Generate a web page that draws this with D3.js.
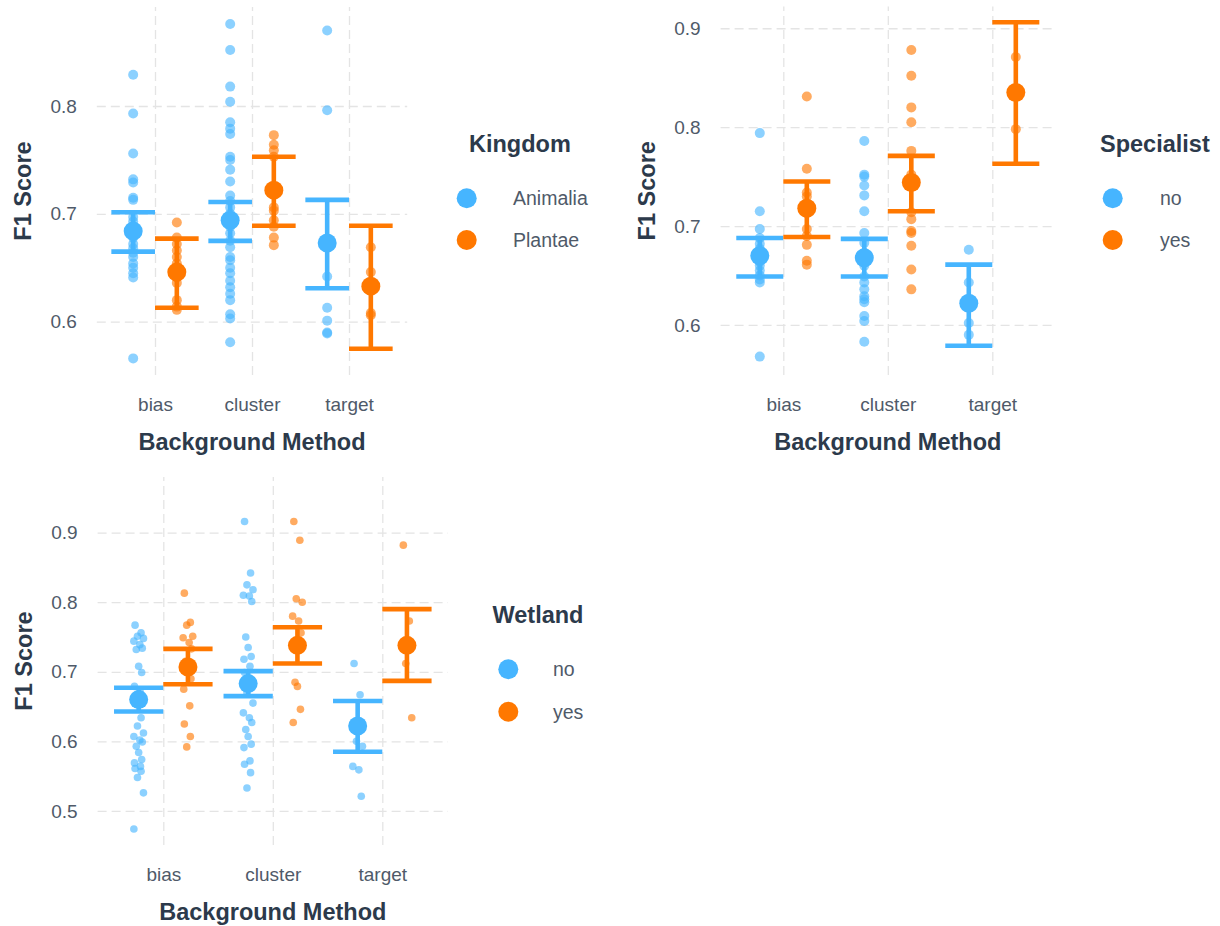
<!DOCTYPE html>
<html>
<head>
<title>F1 Score by Background Method</title>
<script src="https://d3js.org/d3.v7.min.js"></script>
<style>
    body { margin: 0; background: #fff; }
    svg text { font-family: "Liberation Sans", Arial, sans-serif; }
    .grid line { stroke: #e4e4e4; stroke-width: 1.3px; stroke-dasharray: 9,5; }
    .grid path { display: none; }
    .ticks path { display: none; }
    .ticks text { fill: #4f5a69; font-size: 19px; }
    .title { fill: #2c3a4b; font-size: 23.5px; font-weight: bold; }
    .lbl { fill: #4f5a69; font-size: 19.5px; }
</style>
</head>
<body>
<div id="chart"></div>
<script>
// categories
const methods = ["bias", "cluster", "target"];
const colors = ["#46b5ff", "#ff7800"];

// ---- Kingdom panel (per group: bias, cluster, target) ----
const kingdomGroups = ["Animalia", "Plantae"];
const kingdomAnimalia = [
    [0.829, 0.793, 0.756, 0.732, 0.729, 0.715, 0.713, 0.697, 0.693, 0.688, 0.685, 0.682, 0.678, 0.672, 0.668, 0.664, 0.660, 0.654, 0.650, 0.645, 0.641, 0.566],
    [0.876, 0.852, 0.818, 0.804, 0.785, 0.779, 0.774, 0.753, 0.750, 0.741, 0.730, 0.717, 0.712, 0.706, 0.700, 0.694, 0.688, 0.682, 0.675, 0.669, 0.660, 0.657, 0.650, 0.645, 0.638, 0.632, 0.626, 0.620, 0.607, 0.603, 0.581],
    [0.870, 0.796, 0.642, 0.613, 0.601, 0.590, 0.589]
];
const kingdomPlantae = [
    [0.692, 0.678, 0.672, 0.666, 0.660, 0.654, 0.646, 0.641, 0.636, 0.620, 0.614, 0.611],
    [0.773, 0.764, 0.759, 0.753, 0.725, 0.720, 0.706, 0.703, 0.694, 0.688, 0.678, 0.671],
    [0.669, 0.646, 0.633, 0.608, 0.606]
];
const kingdomMean = [[0.684, 0.646], [0.694, 0.722], [0.673, 0.633]];
const kingdomLow  = [[0.665, 0.613], [0.675, 0.689], [0.631, 0.575]];
const kingdomHigh = [[0.7015, 0.677], [0.711, 0.753], [0.713, 0.689]];
const kingdomTicks = [0.6, 0.7, 0.8];

// ---- Specialist panel ----
const specialistGroups = ["no", "yes"];
const specialistNo = [
    [0.794, 0.715, 0.697, 0.688, 0.682, 0.677, 0.673, 0.670, 0.667, 0.664, 0.660, 0.655, 0.650, 0.646, 0.643, 0.568],
    [0.786, 0.752, 0.750, 0.741, 0.731, 0.715, 0.693, 0.683, 0.673, 0.666, 0.660, 0.649, 0.643, 0.636, 0.629, 0.626, 0.623, 0.609, 0.604, 0.583],
    [0.676, 0.643, 0.626, 0.619, 0.602, 0.590]
];
const specialistYes = [
    [0.831, 0.758, 0.734, 0.730, 0.720, 0.713, 0.697, 0.690, 0.681, 0.665, 0.661],
    [0.878, 0.852, 0.820, 0.805, 0.776, 0.752, 0.745, 0.714, 0.707, 0.695, 0.693, 0.680, 0.656, 0.636],
    [0.871, 0.798]
];
const specialistMean = [[0.670, 0.718], [0.668, 0.744], [0.622, 0.835]];
const specialistLow  = [[0.649, 0.689], [0.649, 0.715], [0.579, 0.763]];
const specialistHigh = [[0.688, 0.745], [0.687, 0.771], [0.661, 0.906]];
const specialistTicks = [0.6, 0.7, 0.8, 0.9];

// ---- Wetland panel ----
const wetlandGroups = ["no", "yes"];
const wetlandNo = [
    [0.767, 0.756, 0.751, 0.748, 0.744, 0.739, 0.734, 0.732, 0.708, 0.699, 0.679, 0.670, 0.660, 0.634, 0.622, 0.612, 0.607, 0.602, 0.599, 0.593, 0.584, 0.574, 0.569, 0.564, 0.561, 0.557, 0.548, 0.526, 0.474],
    [0.916, 0.842, 0.825, 0.818, 0.810, 0.809, 0.801, 0.750, 0.735, 0.722, 0.718, 0.708, 0.699, 0.679, 0.670, 0.655, 0.641, 0.634, 0.627, 0.617, 0.607, 0.596, 0.591, 0.572, 0.567, 0.555, 0.533],
    [0.712, 0.667, 0.600, 0.593, 0.564, 0.559, 0.521]
];
const wetlandYes = [
    [0.813, 0.771, 0.767, 0.751, 0.749, 0.742, 0.733, 0.715, 0.706, 0.690, 0.675, 0.651, 0.625, 0.607, 0.592],
    [0.916, 0.889, 0.805, 0.800, 0.780, 0.773, 0.756, 0.685, 0.679, 0.646, 0.627],
    [0.882, 0.773, 0.712, 0.634]
];
const wetlandMean = [[0.660, 0.707], [0.683, 0.738], [0.622, 0.738]];
const wetlandLow  = [[0.643, 0.682], [0.665, 0.712], [0.585, 0.687]];
const wetlandHigh = [[0.677, 0.733], [0.701, 0.764], [0.658, 0.790]];
const wetlandTicks = [0.5, 0.6, 0.7, 0.8, 0.9];

// small fixed horizontal spread used in the bottom panel
const jitterPattern = [-3, 2, -1, 4, -4, 1, 3, -2, 0, 2.5, -3.5, 1.5];

let panels = [
    { title: "Kingdom", groups: kingdomGroups, pts: [kingdomAnimalia, kingdomPlantae],
      mean: kingdomMean, low: kingdomLow, high: kingdomHigh, ticks: kingdomTicks,
      ydom: [0.5506, 0.8918], box: { left: 96.8, right: 407.2, top: 7, bottom: 375 },
      r: 5, jitter: 0,
      legend: { titleX: 469, titleY: 151.7, keyX: 466.7, keyY: [198.3, 240], labelX: 513 } },
    { title: "Specialist", groups: specialistGroups, pts: [specialistNo, specialistYes],
      mean: specialistMean, low: specialistLow, high: specialistHigh, ticks: specialistTicks,
      ydom: [0.5494, 0.922], box: { left: 720.6, right: 1055, top: 6.5, bottom: 375 },
      r: 5, jitter: 0,
      legend: { titleX: 1100, titleY: 151.7, keyX: 1112.7, keyY: [198.3, 240], labelX: 1160 } },
    { title: "Wetland", groups: wetlandGroups, pts: [wetlandNo, wetlandYes],
      mean: wetlandMean, low: wetlandLow, high: wetlandHigh, ticks: wetlandTicks,
      ydom: [0.451, 0.980], box: { left: 97.6, right: 448, top: 477, bottom: 845 },
      r: 3.8, jitter: 1.2,
      legend: { titleX: 492.5, titleY: 623.3, keyX: 508.3, keyY: [669.3, 711.7], labelX: 553 } }
];

let svg = d3.select("#chart").append("svg")
    .attr("width", 1220).attr("height", 926);

panels.forEach(function(p) {
    let b = p.box;
    let x = d3.scalePoint().domain(methods).range([b.left, b.right]).padding(0.6);
    let y = d3.scaleLinear().domain(p.ydom).range([b.bottom, b.top]);
    let dodge = x.step() * 0.225;
    let g = svg.append("g");

    // dashed grid
    g.append("g").attr("class", "grid")
        .attr("transform", "translate(" + b.left + ",0)")
        .call(d3.axisLeft(y).tickValues(p.ticks).tickSize(-(b.right - b.left)).tickFormat(""));
    g.append("g").attr("class", "grid")
        .attr("transform", "translate(0," + b.bottom + ")")
        .call(d3.axisBottom(x).tickSize(b.bottom - b.top).tickFormat(""))
        .selectAll("line").attr("y2", -(b.bottom - b.top));

    // tick labels
    g.append("g").attr("class", "ticks")
        .attr("transform", "translate(" + b.left + ",0)")
        .call(d3.axisLeft(y).tickValues(p.ticks).tickSize(0).tickPadding(20).tickFormat(d3.format(".1f")));
    g.append("g").attr("class", "ticks")
        .attr("transform", "translate(0," + b.bottom + ")")
        .call(d3.axisBottom(x).tickSize(0).tickPadding(23));

    // axis titles
    g.append("text").attr("class", "title")
        .attr("x", (b.left + b.right) / 2).attr("y", b.bottom + 75)
        .attr("text-anchor", "middle").text("Background Method");
    g.append("text").attr("class", "title")
        .attr("transform", "translate(" + (b.left - 74 + 8) + "," + ((b.top + b.bottom) / 2) + ") rotate(-90)")
        .attr("text-anchor", "middle").text("F1 Score");

    // raw points
    p.groups.forEach(function(grp, j) {
        methods.forEach(function(m, i) {
            let cx = x(m) + (j === 0 ? -dodge : dodge);
            g.append("g").selectAll("circle")
                .data(p.pts[j][i])
                .join("circle")
                .attr("cx", (d, k) => cx + p.jitter * jitterPattern[k % jitterPattern.length])
                .attr("cy", d => y(d))
                .attr("r", p.r)
                .style("fill", colors[j])
                .style("opacity", 0.62);
        });
    });

    // error bars and means
    p.groups.forEach(function(grp, j) {
        methods.forEach(function(m, i) {
            let cx = x(m) + (j === 0 ? -dodge : dodge);
            let lo = y(p.low[i][j]), hi = y(p.high[i][j]);
            let eb = g.append("g").style("stroke", colors[j]).style("stroke-width", 4.6);
            eb.append("line").attr("x1", cx).attr("x2", cx).attr("y1", lo).attr("y2", hi);
            eb.append("line").attr("x1", cx - dodge).attr("x2", cx + dodge).attr("y1", lo).attr("y2", lo);
            eb.append("line").attr("x1", cx - dodge).attr("x2", cx + dodge).attr("y1", hi).attr("y2", hi);
            g.append("circle")
                .attr("cx", cx).attr("cy", y(p.mean[i][j]))
                .attr("r", 9.5)
                .style("fill", colors[j]);
        });
    });

    // legend
    let L = p.legend;
    g.append("text").attr("class", "title")
        .attr("x", L.titleX).attr("y", L.titleY).text(p.title);
    p.groups.forEach(function(grp, j) {
        g.append("circle").attr("cx", L.keyX).attr("cy", L.keyY[j]).attr("r", 10)
            .style("fill", colors[j]);
        g.append("text").attr("class", "lbl")
            .attr("x", L.labelX).attr("y", L.keyY[j] + 7).text(grp);
    });
});
</script>
</body>
</html>
